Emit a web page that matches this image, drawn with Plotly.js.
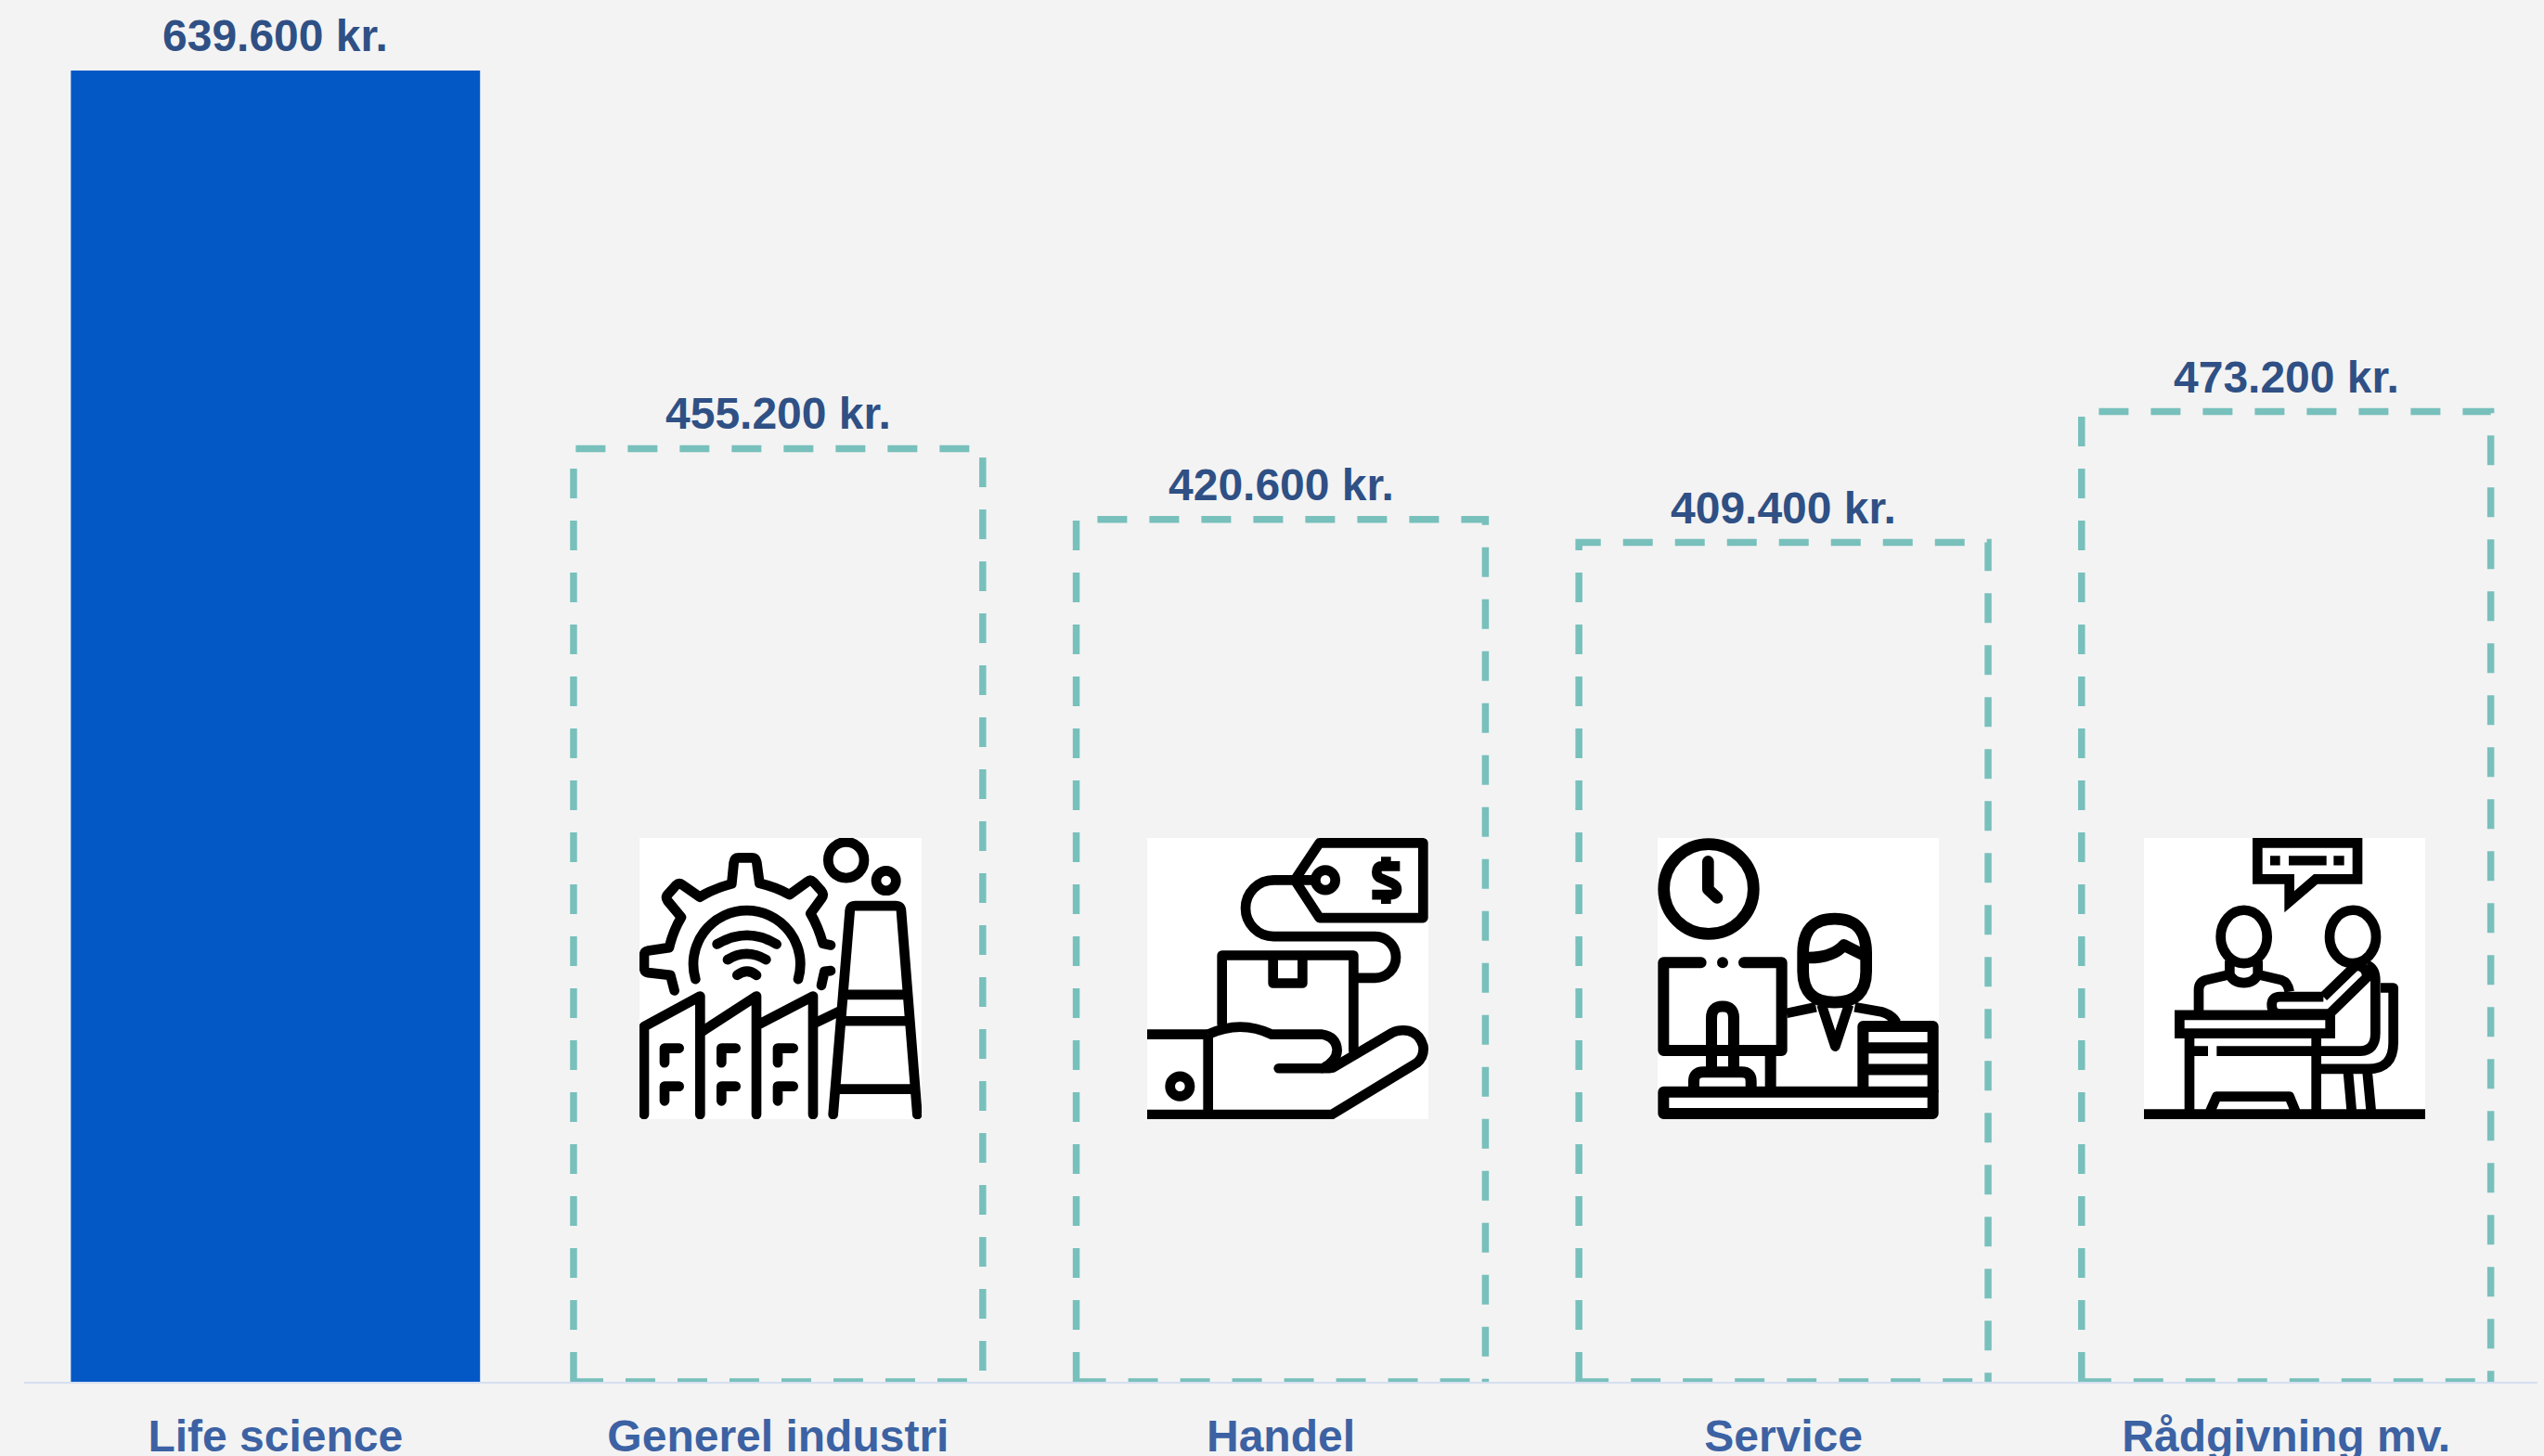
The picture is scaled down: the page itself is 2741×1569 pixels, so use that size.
<!DOCTYPE html>
<html><head><meta charset="utf-8">
<script src="https://cdn.plot.ly/plotly-3.0.1.min.js"></script>
<style>html,body{margin:0;padding:0;background:#f3f3f3;overflow:hidden}</style>
</head><body><div id="chart" style="width:2741px;height:1569px"></div>
<script>
const categories = ["Life science","Generel industri","Handel","Service","Rådgivning mv."];
const values = [639600,455200,420600,409400,473200];
const labels = ["639.600 kr.","455.200 kr.","420.600 kr.","409.400 kr.","473.200 kr."];

const W=2741,H=1569,L=26,R=7,T=0,B=80,PW=W-L-R,PH=H-T-B;
const BG="#f3f3f3",BLUE="#0358c5",TEAL="#78c0bc",DARK="#2f5085",MID="#3c62a3",AXIS="#d6dff0";
const FONT='"Liberation Sans", Arial, sans-serif';
const BARGAP=0.186, HALF=(1-BARGAP)/2;

function svg(vb,body){
  const s=`<svg xmlns="http://www.w3.org/2000/svg" viewBox="${vb}" width="912" height="908" preserveAspectRatio="none">`+
   `<rect x="0" y="0" width="1200" height="1200" fill="#fff"/>`+
   `<g fill="none" stroke="#000" stroke-width="32" stroke-linecap="round" stroke-linejoin="round">${body}</g></svg>`;
  return "data:image/svg+xml;charset=utf-8,"+encodeURIComponent(s);
}
const iconFactory=svg("87 39 912 908",`
<path d="M200,532 L187,482 L115,474 Q102,472 102,455 L102,420 Q102,405 115,403 L183,393 Q195,340 222,295 L178,242 Q170,230 180,220 L205,192 Q215,183 225,190 L282,230 Q325,203 385,187 L392,118 Q394,103 408,103 L450,103 Q463,103 466,118 L475,185 Q530,198 572,222 L630,180 Q640,172 650,182 L675,210 Q685,222 675,235 L640,283 Q665,325 680,380 L705,385"/>
<path d="M705,468 L685,470 L675,515"/>
<path d="M268,495 A173,173 0 1 1 600,495"/>
<path d="M338,382 Q435,325 530,382 M372,432 Q432,395 496,432 M403,482 Q435,458 465,482"/>
<circle cx="755" cy="110" r="58"/><circle cx="884" cy="177" r="32"/>
<path d="M713,932 L767,275 Q768,258 785,258 L915,258 Q932,258 933,275 L985,932 M755,545 L945,545 M745,630 L950,630 M725,850 L965,850"/>
<path d="M102,932 L102,648 L283,550 L283,932 M283,668 L465,550 L465,932 M465,645 L648,550 L648,932 M648,640 L730,600"/>
<path d="M168,765 V718 H215 M168,888 V841 H215 M352,765 V718 H398 M352,888 V841 H398 M534,765 V718 H584 M534,888 V841 H584"/>`);
const iconHand=svg("78 39 909 908",`
<path stroke-linecap="butt" d="M635,55 L970,55 L970,297 L635,297 L555,175 Z"/>
<circle cx="654" cy="175" r="32"/>
<path stroke-linecap="butt" d="M895,130 L835,130 Q820,130 820,150 Q820,165 835,170 L870,185 Q885,192 885,205 Q885,222 865,222 L805,222 M850,100 V130 M850,222 V252"/>
<path stroke-linecap="butt" d="M625,175 L487,175 A91,91 0 0 0 487,357 L815,357 A67,67 0 0 1 815,491 L745,491"/>
<path d="M320,640 L320,418 L745,418 L745,725 M485,418 V508 H580 V418"/>
<path stroke-linecap="butt" d="M78,673 L275,673 M275,673 V932 M78,932 L675,932 L950,765 Q975,745 970,710 Q955,660 905,660 Q885,660 870,668 L680,780 Q670,783 640,783"/>
<path d="M640,783 L503,783"/>
<path stroke-linecap="butt" d="M275,673 Q380,625 480,673 L640,673 Q690,680 692,725 Q690,760 650,780"/>
<circle cx="184" cy="841" r="32"/>`);
const iconDesk=svg("78 39 909 908",`
<circle cx="243" cy="204" r="145" stroke-width="38"/>
<path stroke-width="38" d="M241,115 V205 L270,232"/>
<path stroke-width="36" d="M218,441 H97 V725 H479 V441 H357"/>
<circle cx="288" cy="441" r="10" stroke-width="16" fill="#000"/>
<path stroke-width="36" stroke-linecap="butt" d="M252,725 V620 Q252,583 288,583 Q324,583 324,620 V790 M252,620 V790 M195,845 V825 Q195,795 225,795 L350,795 Q380,795 380,825 V845 M443,740 V860"/>
<path stroke-width="36" d="M97,859 H968 V929 H97 Z"/>
<path stroke-width="36" stroke-linecap="butt" d="M742,860 V647 H968 V860 M742,717 H968 M742,787 H968"/>
<path stroke-width="38" d="M548,410 Q548,300 650,300 Q752,300 752,410 V470 Q752,570 650,570 Q548,570 548,470 Z"/>
<path stroke-width="38" stroke-linecap="butt" d="M548,425 Q640,430 680,385 Q700,395 750,420"/>
<path stroke-linecap="butt" d="M608,578 L652,712 L696,578 M495,605 L590,585 M715,585 L800,600 Q835,610 850,635"/>`);
const iconMeeting=svg("90 39 909 908",`
<path stroke-linecap="butt" stroke-linejoin="miter" d="M457,55 H780 V172 H645 L560,245 V172 H457 Z"/>
<path stroke-width="31" stroke-linecap="butt" d="M498,112 H530 M558,112 H680 M703,112 H737"/>
<ellipse cx="413" cy="358" rx="75" ry="86"/><ellipse cx="765" cy="358" rx="75" ry="86"/>
<path stroke-linecap="butt" d="M267,600 V530 Q267,505 290,498 L367,480 Q380,507 413,507 Q445,507 458,480 L535,498 Q555,505 560,535 M367,435 V480 M458,435 V480"/>
<path stroke-linecap="butt" d="M670,552 L530,552 Q503,552 503,578 Q503,607 530,607 L690,607 L810,490 Q812,470 800,460 Q785,448 770,455 L670,552"/>
<path stroke-linecap="butt" d="M810,450 Q838,460 838,500 V670 Q838,725 790,727 L325,727 M250,727 H297"/>
<path stroke-linecap="butt" stroke-linejoin="miter" d="M205,611 H692 V670 H205 Z"/>
<path stroke-linecap="butt" d="M237,670 V930 M647,670 V930 M855,523 H896 V700 Q896,785 815,785 L660,785 M750,795 L762,930 M812,795 L825,930 M90,931 H999 M300,930 L325,874 H560 L583,930"/>`);

const iconBoxes=[
  {src:iconFactory,px:689,w:304},
  {src:iconHand,px:1236,w:303},
  {src:iconDesk,px:1786,w:303},
  {src:iconMeeting,px:2310,w:303}
];
const images=iconBoxes.map(b=>({
  source:b.src,xref:"paper",yref:"paper",
  x:(b.px-L)/PW,y:1-(903-T)/PH,sizex:b.w/PW,sizey:303/PH,
  xanchor:"left",yanchor:"top",sizing:"stretch",layer:"above",opacity:1
}));

const shapes=values.slice(1).map((v,k)=>{
  const i=k+1,x0=i-HALF,x1=i+HALF;
  return {type:"path",xref:"x",yref:"y",layer:"below",
    path:`M ${x0} 0 L ${x0} ${v} L ${x1} ${v} L ${x1} 0 M ${x0} 0 L ${x1} 0`,
    line:{color:TEAL,width:7.5,dash:"32px,24px"}};
});

const annotations=categories.map((c,i)=>({
  x:c,y:values[i],xref:"x",yref:"y",text:labels[i],showarrow:false,
  xanchor:"center",yanchor:"bottom",yshift:9,
  font:{family:FONT,size:48,color:DARK,weight:700}
}));

const trace={type:"bar",x:categories,y:values,cliponaxis:false,hoverinfo:"skip",
  marker:{color:[BLUE,"rgba(0,0,0,0)","rgba(0,0,0,0)","rgba(0,0,0,0)","rgba(0,0,0,0)"],line:{width:0}}};

const layout={width:W,height:H,paper_bgcolor:BG,plot_bgcolor:BG,showlegend:false,bargap:BARGAP,
  margin:{l:L,r:R,t:T,b:B,pad:0},
  xaxis:{type:"category",range:[-0.5,4.5],showgrid:false,zeroline:false,showline:true,linecolor:AXIS,linewidth:2,
    ticks:"",tickfont:{family:FONT,size:48,color:MID,weight:700},automargin:false,ticklabelstandoff:15,fixedrange:true,tickangle:0},
  yaxis:{range:[0,639600*1489/1413],visible:false,fixedrange:true},
  shapes,images,annotations};
Plotly.newPlot("chart",[trace],layout,{displayModeBar:false,staticPlot:true});
</script></body></html>
